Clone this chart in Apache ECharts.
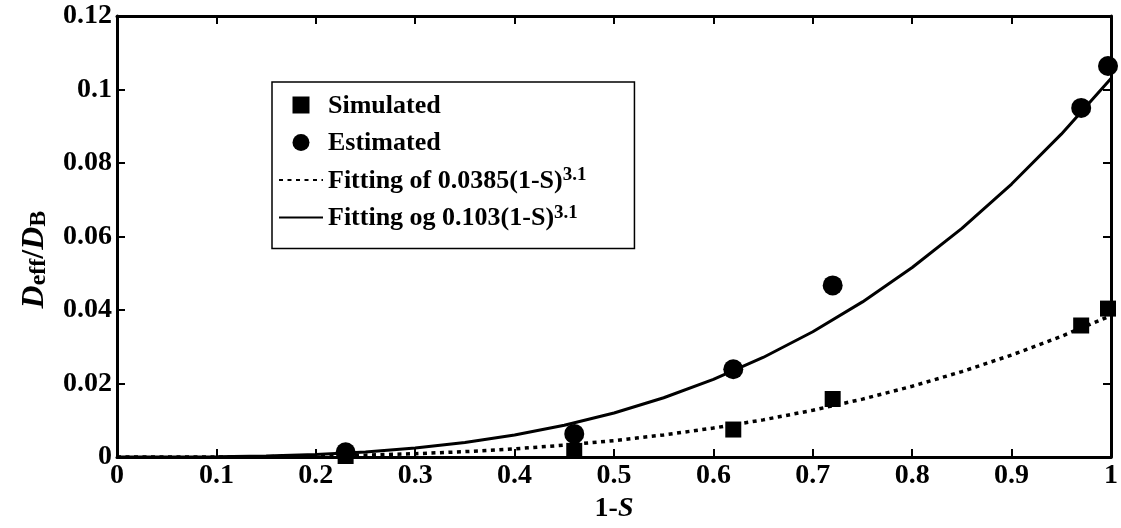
<!DOCTYPE html>
<html>
<head>
<meta charset="utf-8">
<script src="https://cdn.jsdelivr.net/npm/echarts@6/dist/echarts.min.js"></script>
<style>
  html, body { margin: 0; padding: 0; background: #fff; }
  #chart { width: 1121px; height: 528px; }
</style>
</head>
<body>
<div id="chart"></div>
<script>
// measured points (1-S, Deff/DB)
const pointX = [0.23, 0.46, 0.62, 0.72, 0.97, 0.997];
const simulated = [0.0003, 0.0017, 0.0075, 0.0158, 0.0358, 0.0404];
const estimated = [0.0013, 0.0063, 0.0239, 0.0467, 0.095, 0.1064];

// fitted curves
const fitX = [0, 0.05, 0.1, 0.15, 0.2, 0.25, 0.3, 0.35, 0.4, 0.45, 0.5,
  0.55, 0.6, 0.65, 0.7, 0.75, 0.8, 0.85, 0.9, 0.95, 1];
const fitSimulated = [0, 0.0000036, 0.0000306, 0.000107, 0.000262, 0.000524,
  0.000922, 0.001486, 0.002248, 0.003239, 0.00449, 0.00603, 0.0079, 0.01013,
  0.01274, 0.01578, 0.01928, 0.02326, 0.02777, 0.03284, 0.0385];
const fitEstimated = [0, 0.0000095, 0.0000818, 0.000288, 0.000702, 0.0014,
  0.00247, 0.00398, 0.00601, 0.00866, 0.01201, 0.01614, 0.02114, 0.0271,
  0.03409, 0.04222, 0.05157, 0.06223, 0.07429, 0.08786, 0.103];

const seriesNames = ['Simulated', 'Estimated',
  'Fitting of 0.0385(1-S)', 'Fitting og 0.103(1-S)'];

const font = "'Liberation Serif', 'DejaVu Serif', serif";
const black = '#000';
const hidden = { color: 'rgba(0,0,0,0)', borderWidth: 0 };

const pairs = (xs, ys) => xs.map((x, i) => [x, ys[i]]);

const chart = echarts.init(document.getElementById('chart'));

const axisLine = { show: true, onZero: false, lineStyle: { color: black, width: 3 } };
const axisTick = { show: true, inside: true, length: 8, lineStyle: { color: black, width: 2 } };
const tickLabel = {
  color: black, fontFamily: font, fontWeight: 'bold', fontSize: 28,
};

const option = {
  animation: false,
  backgroundColor: '#fff',
  grid: { left: 117, right: 8, top: 16, bottom: 70 },
  legend: {
    orient: 'vertical',
    left: 272,
    top: 82,
    padding: [9, 48, 12, 6],
    itemWidth: 44,
    itemHeight: 17,
    itemGap: 4.5,
    borderColor: black,
    borderWidth: 1.5,
    backgroundColor: '#fff',
    data: [
      { name: seriesNames[0], icon: 'path://M0,0H10V10H0Z' },
      { name: seriesNames[1], icon: 'circle' },
      { name: seriesNames[2], itemStyle: hidden },
      { name: seriesNames[3], itemStyle: hidden },
    ],
    formatter: (name) => {
      if (name.startsWith('Fitting')) return '{b|' + name + '}{sup|3.1}';
      return '{b|' + name + '}{sup| }';
    },
    textStyle: {
      color: black, fontFamily: font, fontWeight: 'bold', fontSize: 26,
      rich: {
        b: { fontFamily: font, fontWeight: 'bold', fontSize: 26, lineHeight: 28, verticalAlign: 'bottom' },
        sup: { fontFamily: font, fontWeight: 'bold', fontSize: 19, lineHeight: 22, verticalAlign: 'top', padding: [0, 0, 14, 0] },
      },
    },
  },
  xAxis: [
    {
      type: 'value', min: 0, max: 1, interval: 0.1, position: 'bottom',
      axisLine, axisTick, splitLine: { show: false },
      axisLabel: { ...tickLabel, margin: 5, formatter: (v) => String(+v.toFixed(1)) },
      name: '{n|1-}{i|S}',
      nameLocation: 'middle',
      nameGap: 37,
      nameTextStyle: {
        rich: {
          n: { fontFamily: font, fontWeight: 'bold', fontSize: 28, color: black },
          i: { fontFamily: font, fontWeight: 'bold', fontStyle: 'italic', fontSize: 28, color: black },
        },
      },
    },
    {
      type: 'value', min: 0, max: 1, interval: 0.1, position: 'top',
      axisLine, axisTick, splitLine: { show: false }, axisLabel: { show: false },
    },
  ],
  yAxis: [
    {
      type: 'value', min: 0, max: 0.12, interval: 0.02, position: 'left',
      axisLine, axisTick, splitLine: { show: false },
      axisLabel: { ...tickLabel, margin: 5, formatter: (v) => String(+v.toFixed(2)) },
      name: '{i|D}{s|eff}{n|/}{i|D}{s|B}',
      nameLocation: 'middle',
      nameRotate: 90,
      nameGap: 66,
      nameTextStyle: {
        padding: [0, 46, 0, 0],
        rich: {
          i: { fontFamily: font, fontWeight: 'bold', fontStyle: 'italic', fontSize: 32, lineHeight: 32, verticalAlign: 'top', color: black },
          n: { fontFamily: font, fontWeight: 'bold', fontSize: 32, lineHeight: 32, verticalAlign: 'top', color: black },
          s: { fontFamily: font, fontWeight: 'bold', fontSize: 24, lineHeight: 24, verticalAlign: 'bottom', color: black },
        },
      },
    },
    {
      type: 'value', min: 0, max: 0.12, interval: 0.02, position: 'right',
      axisLine, axisTick, splitLine: { show: false }, axisLabel: { show: false },
    },
  ],
  series: [
    {
      name: seriesNames[0], type: 'scatter', symbol: 'rect', symbolSize: 16,
      itemStyle: { color: black, opacity: 1 }, data: pairs(pointX, simulated), z: 3,
    },
    {
      name: seriesNames[1], type: 'scatter', symbol: 'circle', symbolSize: 20,
      itemStyle: { color: black, opacity: 1 }, data: pairs(pointX, estimated), z: 3,
    },
    {
      name: seriesNames[2], type: 'line', symbol: 'none', smooth: false,
      lineStyle: { color: black, width: 3.5, type: [4, 4.5], cap: 'butt' },
      itemStyle: { color: black },
      data: pairs(fitX, fitSimulated), z: 2,
    },
    {
      name: seriesNames[3], type: 'line', symbol: 'none', smooth: false,
      lineStyle: { color: black, width: 3 },
      itemStyle: { color: black },
      data: pairs(fitX, fitEstimated), z: 2,
    },
  ],
};

chart.setOption(option);
</script>
</body>
</html>
